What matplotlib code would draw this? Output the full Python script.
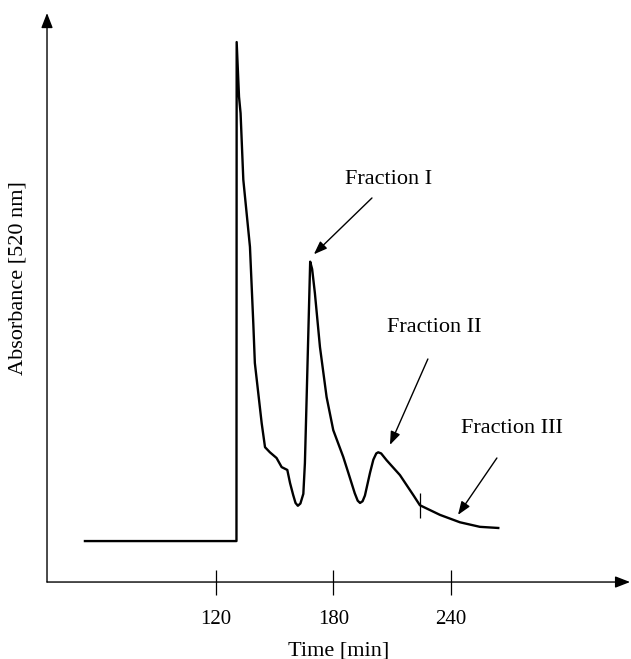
import numpy as np
import matplotlib
matplotlib.use("Agg")
import matplotlib.pyplot as plt

plt.rcParams['font.family'] = ['Liberation Serif', 'DejaVu Serif']

# chromatogram trace (time in min, absorbance in arbitrary units)
time = [53.0, 130.5, 130.6, 131.8, 132.6, 134.0, 137.4, 139.1, 139.9, 143.4,
        145.1, 147.6, 151.0, 153.6, 156.5, 157.9, 159.5, 160.7, 161.9, 163.2,
        164.7, 165.5, 166.4, 168.2, 169.2, 170.6, 173.2, 176.6, 180.0, 185.1,
        187.7, 191.0, 192.5, 193.7, 195.0, 196.2, 198.8, 200.5, 202.0, 203.0,
        204.5, 207.3, 214.1, 220.9, 224.3, 234.6, 244.8, 255.0, 264.4]
absorb = [7.2, 7.2, 94.9, 85.3, 82.4, 70.7, 58.9, 45.5, 38.5, 27.9,
          23.7, 22.8, 21.8, 20.2, 19.7, 17.4, 15.3, 13.9, 13.4, 13.8,
          15.5, 20.9, 32.5, 56.3, 55.0, 50.8, 41.3, 32.5, 26.7, 22.0,
          19.2, 15.6, 14.3, 13.9, 14.2, 15.2, 19.2, 21.5, 22.6, 22.8,
          22.6, 21.4, 18.8, 15.3, 13.5, 11.8, 10.5, 9.7, 9.5]

xticks = [120, 180, 240]
mark_time = 224.3

# labels: (text, text pos, arrow start, arrow tip)
fractions = [
    ("Fraction I", (208.5, 70.8), (199.8, 67.5), (170.1, 57.6)),
    ("Fraction II", (231.5, 44.8), (228.4, 39.2), (209.0, 24.1)),
    ("Fraction III", (271.4, 26.9), (263.7, 21.8), (243.8, 11.8)),
]

fig = plt.figure(figsize=(6.31, 6.59), dpi=100)
ax = fig.add_axes([0.0745, 0.1168, 0.924, 0.8634])

ax.plot(time, absorb, color='black', lw=1.7, solid_joinstyle='round')
ax.vlines(mark_time, 11.3, 15.6, color='black', lw=0.9)

for label, txt, start, tip in fractions:
    ax.text(txt[0], txt[1], label, ha='center', va='center', fontsize=16)
    ax.annotate('', xy=tip, xytext=start,
                arrowprops=dict(arrowstyle='-|>,head_length=0.8,head_width=0.3',
                                color='black', lw=1.0, shrinkA=0, shrinkB=0))

ax.set_xlim(33.6, 331.8)
ax.set_ylim(0, 100)

for s in ax.spines.values():
    s.set_visible(False)

# axis lines with arrow heads
ax.annotate('', xy=(1, 0), xytext=(0, 0), xycoords='axes fraction',
            arrowprops=dict(arrowstyle='-|>,head_length=0.9,head_width=0.35',
                            color='black', lw=1.0, shrinkA=0, shrinkB=0))
ax.annotate('', xy=(0, 1), xytext=(0, 0), xycoords='axes fraction',
            arrowprops=dict(arrowstyle='-|>,head_length=0.9,head_width=0.35',
                            color='black', lw=1.0, shrinkA=0, shrinkB=0))

ax.set_xticks(xticks)
ax.set_xticklabels([str(t) for t in xticks])
ax.tick_params(axis='x', direction='inout', length=18, width=0.9,
               labelsize=15, pad=11)
ax.set_yticks([])

ax.set_xlabel('Time [min]', fontsize=16, labelpad=9)
ax.set_ylabel('Absorbance [520 nm]', fontsize=16)
ax.yaxis.set_label_coords(-0.034, 0.535)

fig.savefig('out.png', dpi=100)
